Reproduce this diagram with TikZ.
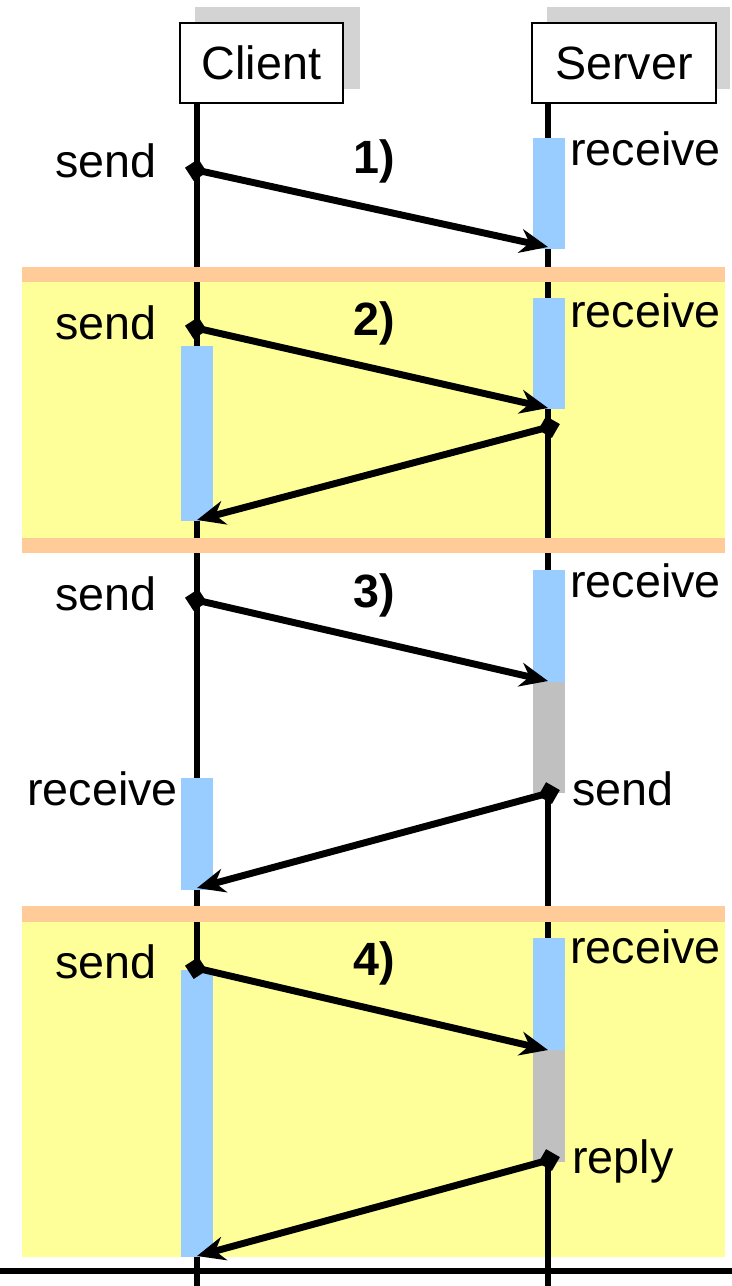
\documentclass[tikz,border=0pt]{standalone}
\usepackage{xcolor}
\usepackage{fontspec}
\setmainfont{Liberation Sans}
\usepackage{tikz}
\usetikzlibrary{shapes.geometric, arrows.meta, calc}

\definecolor{bandyellow}{HTML}{FFFF99}
\definecolor{bandorange}{HTML}{FFCC99}
\definecolor{actblue}{HTML}{99CCFF}
\definecolor{busygray}{HTML}{C0C0C0}
\definecolor{shadowgray}{HTML}{D3D3D3}

\begin{document}
\begin{tikzpicture}[
x=0.75pt, y=-0.75pt,
>={Stealth[length=21pt, width=18pt]},
every node/.style = {font=\fontsize{35}{42}\selectfont},
actor box/.style = {draw, fill=white, line width=1.8pt, minimum width=122pt, minimum height=60pt, inner sep=0pt},
life line/.style = {line width=4.2pt},
msg/.style = {->, line width=5.2pt},
send point/.style = {diamond, fill=black, minimum size=17pt, inner sep=0pt},
stage label/.style = {font=\fontsize{35}{42}\selectfont\bfseries},
event label/.style = {inner sep=0pt}
]
\useasboundingbox (0,0) rectangle (732,1286);

% yellow sections
\fill[bandyellow] (22,282) rectangle (725,538);
\fill[bandyellow] (22,922) rectangle (725,1257);

% life lines
\coordinate (cbot) at (197,1286);
\coordinate (sbot) at (548,1286);
\draw[life line] (197,103) -- (cbot);
\draw[life line] (548,103) -- (sbot);

% separators
\fill[bandorange] (22,267) rectangle (725,282);
\fill[bandorange] (22,538) rectangle (725,553);
\fill[bandorange] (22,906) rectangle (725,922);

% activation bars
\fill[actblue] (533,138) rectangle (565,249);

\fill[actblue] (533,298) rectangle (565,409);
\fill[actblue] (181,346) rectangle (213,521);

\fill[actblue] (533,570) rectangle (565,682);
\fill[busygray] (533,682) rectangle (565,793);
\fill[actblue] (181,778) rectangle (213,890);

\fill[actblue] (533,938) rectangle (565,1050);
\fill[busygray] (533,1050) rectangle (565,1162);
\fill[actblue] (181,970) rectangle (213,1257);

\draw[line width=4.5pt] (0,1271) -- (732,1271);

% actors
\fill[shadowgray] (195,7) rectangle (360,89);
\fill[shadowgray] (547,7) rectangle (730,89);
\node (client) at (261.5,63) [actor box, minimum width=122pt] {Client};
\node (server) at (624,63) [actor box, minimum width=138pt] {Server};

% messages
\node (c1) at (196,170) [send point, rotate=-12] {};
\coordinate (s1) at (548,247);
\draw[msg] (c1.center) -- (s1);

\node (c2) at (196,328) [send point, rotate=-12] {};
\coordinate (s2) at (548,408);
\draw[msg] (c2.center) -- (s2);
\node (s2r) at (549,427) [send point, rotate=15] {};
\coordinate (c2r) at (197,520);
\draw[msg] (s2r.center) -- (c2r);

\node (c3) at (196,600) [send point, rotate=-12] {};
\coordinate (s3) at (548,681);
\draw[msg] (c3.center) -- (s3);
\node (s3r) at (549,793) [send point, rotate=15] {};
\coordinate (c3r) at (197,888);
\draw[msg] (s3r.center) -- (c3r);

\node (c4) at (196,968) [send point, rotate=-12] {};
\coordinate (s4) at (548,1050);
\draw[msg] (c4.center) -- (s4);
\node (s4r) at (549,1160) [send point, rotate=15] {};
\coordinate (c4r) at (197,1256);
\draw[msg] (s4r.center) -- (c4r);

% labels
\node (st1) at (374,173) [stage label, anchor=base] {1)};
\node (st2) at (374,335) [stage label, anchor=base] {2)};
\node (st3) at (374,607) [stage label, anchor=base] {3)};
\node (st4) at (374,975) [stage label, anchor=base] {4)};

\node (snd1) at (157,177) [event label, anchor=base east] {send};
\node (snd2) at (157,339) [event label, anchor=base east] {send};
\node (snd3) at (157,610) [event label, anchor=base east] {send};
\node (snd4) at (157,978) [event label, anchor=base east] {send};

\node (rcv1) at (570,165) [event label, anchor=base west] {receive};
\node (rcv2) at (570,327) [event label, anchor=base west] {receive};
\node (rcv3) at (570,597) [event label, anchor=base west] {receive};
\node (rcv4) at (570,963) [event label, anchor=base west] {receive};

\node (crcv3) at (178,805) [event label, anchor=base east] {receive};
\node (ssnd3) at (572,805) [event label, anchor=base west] {send};
\node (srep4) at (572,1173) [event label, anchor=base west] {reply};
\end{tikzpicture}
\end{document}
